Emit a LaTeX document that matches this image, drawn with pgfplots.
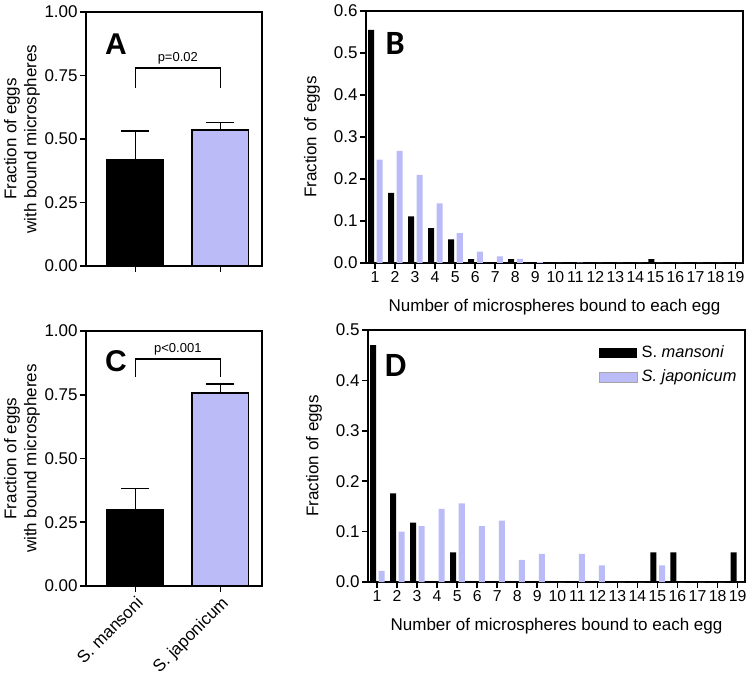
\documentclass[border=0pt]{standalone}
\usepackage{fontspec}
\setmainfont{Liberation Sans}
\newfontfamily\carlito{Carlito}
\usepackage{pgfplots}
\pgfplotsset{compat=1.18}
\definecolor{lav}{HTML}{BBBBF8}

\pgfplotsset{
  prism/.style={
    scale only axis,
    axis line style={line width=0.8pt},
    tick align=outside, xtick pos=left, ytick pos=left,
    major tick length=3pt,
    every tick/.style={black, line width=0.8pt},
    tick label style={font=\fontsize{8.5}{10}\selectfont},
    yticklabel style={inner sep=1pt},
    label style={font=\fontsize{8.5}{10}\selectfont},
    /pgf/number format/assume math mode=true,
    ymin=0,
  },
  colbar/.style={
    prism, width=88pt, height=127pt,
    xmin=-0.58, xmax=1.49, xtick={0,1},
    ymax=1, ytick={0,0.25,0.5,0.75,1},
    yticklabel style={/pgf/number format/.cd, fixed, fixed zerofill, precision=2},
    ylabel={Fraction of eggs\\with bound microspheres},
    ylabel style={align=center, at={([xshift=-32pt]axis description cs:0,0.5)}, anchor=center},
  },
  hist/.style={
    prism, width=188.5pt, height=126pt,
    xmin=0.55, xmax=19.37, xtick={1,...,19},
    xticklabel style={inner sep=1pt, font=\fontsize{7.9}{10}\selectfont},
    yticklabel style={/pgf/number format/.cd, fixed, fixed zerofill, precision=1},
    ylabel={Fraction of eggs},
    ylabel style={at={([xshift=-27pt]axis description cs:0,0.5)}, anchor=center},
    xlabel={Number of microspheres bound to each egg},
    xlabel style={at={([yshift=-22pt]axis description cs:0.5,0)}, anchor=center},
  },
  errb/.style={error bars/.cd, y dir=plus, y explicit,
    error bar style={line width=0.8pt, black},
    error mark options={rotate=90, mark size=7pt, line width=0.8pt, black}},
}

\begin{document}
\begin{tikzpicture}
\path[use as bounding box] (0,0) rectangle (375pt,338pt);

% A
\begin{axis}[colbar, at={(43pt,205pt)}, anchor=south west, xticklabels={}]
  \addplot[ybar, bar width=0.66, fill=black, draw=black, line width=0.8pt, errb]
    coordinates {(0,0.418) +- (0,0.114)};
  \addplot[ybar, bar width=0.66, fill=lav, draw=black, line width=0.8pt, errb]
    coordinates {(1,0.535) +- (0,0.030)};
  \draw[line width=0.8pt] (axis cs:0,0.70) -- (axis cs:0,0.78) -- (axis cs:1,0.78) -- (axis cs:1,0.70);
  \node[above, inner sep=1.5pt, font=\fontsize{6.5}{7}\selectfont] at (axis cs:0.5,0.78) {p=0.02};
  \node[font=\fontsize{15}{16}\selectfont\bfseries] at (rel axis cs:0.17,0.874) {A};
\end{axis}

% C
\begin{axis}[colbar, at={(43pt,45pt)}, anchor=south west, height=127.5pt,
    xticklabels={S. mansoni, S. japonicum},
    xticklabel style={rotate=45, anchor=north east, inner sep=1pt}]
  \addplot[ybar, bar width=0.66, fill=black, draw=black, line width=0.8pt, errb]
    coordinates {(0,0.297) +- (0,0.085)};
  \addplot[ybar, bar width=0.66, fill=lav, draw=black, line width=0.8pt, errb]
    coordinates {(1,0.758) +- (0,0.033)};
  \draw[line width=0.8pt] (axis cs:0,0.82) -- (axis cs:0,0.89) -- (axis cs:1,0.89) -- (axis cs:1,0.82);
  \node[above, inner sep=1.5pt, font=\fontsize{6.5}{7}\selectfont] at (axis cs:0.5,0.89) {p<0.001};
  \node[font=\fontsize{15}{16}\selectfont\bfseries] at (rel axis cs:0.17,0.88) {C};
\end{axis}

% B
\begin{axis}[hist, at={(183pt,206.5pt)}, anchor=south west,
    ymax=0.6, ytick={0,0.1,...,0.6}]
  \addplot[ybar, bar width=0.3, bar shift=-0.2, fill=black, draw=none] coordinates {
    (1,0.555) (2,0.167) (3,0.111) (4,0.083) (5,0.056) (6,0.009) (7,0) (8,0.009)
    (9,0) (10,0) (11,0) (12,0) (13,0) (14,0) (15,0.009) (16,0) (17,0) (18,0) (19,0)};
  \addplot[ybar, bar width=0.3, bar shift=0.23, fill=lav, draw=none] coordinates {
    (1,0.246) (2,0.267) (3,0.210) (4,0.142) (5,0.071) (6,0.027) (7,0.016) (8,0.010)
    (9,0.002) (10,0) (11,0.001) (12,0) (13,0) (14,0) (15,0) (16,0) (17,0) (18,0) (19,0)};
  \node[font=\carlito\fontsize{17}{18}\selectfont\bfseries] at (rel axis cs:0.077,0.873) {B};
\end{axis}

% D
\begin{axis}[hist, at={(184pt,47pt)}, anchor=south west,
    ymax=0.5, ytick={0,0.1,...,0.5},
    legend style={at={(rel axis cs:1.005,0.97)}, anchor=north east, draw=none, fill=none,
      font=\fontsize{8.2}{9}\selectfont, row sep=0.5pt, cells={anchor=west}}]
  \addplot[ybar, bar width=0.3, bar shift=-0.2, fill=black, draw=none,
    legend image code/.code={\fill[black] (0pt,-2.5pt) rectangle (19pt,2.5pt);}] coordinates {
    (1,0.470) (2,0.176) (3,0.118) (4,0) (5,0.059) (6,0) (7,0) (8,0)
    (9,0) (10,0) (11,0) (12,0) (13,0) (14,0) (15,0.059) (16,0.059) (17,0) (18,0) (19,0.059)};
  \addlegendentry{S. \textit{mansoni}}
  \addplot[ybar, bar width=0.3, bar shift=0.23, fill=lav, draw=none,
    legend image code/.code={\filldraw[fill=lav, draw=gray!70, line width=0.5pt] (0pt,-2.5pt) rectangle (19pt,2.5pt);}] coordinates {
    (1,0.022) (2,0.100) (3,0.111) (4,0.145) (5,0.156) (6,0.111) (7,0.122) (8,0.044)
    (9,0.056) (10,0) (11,0.056) (12,0.033) (13,0) (14,0) (15,0.033) (16,0) (17,0) (18,0) (19,0)};
  \addlegendentry{\textit{S. japonicum}}
  \node[font=\carlito\fontsize{17}{18}\selectfont\bfseries] at (rel axis cs:0.073,0.861) {D};
\end{axis}
\end{tikzpicture}
\end{document}
